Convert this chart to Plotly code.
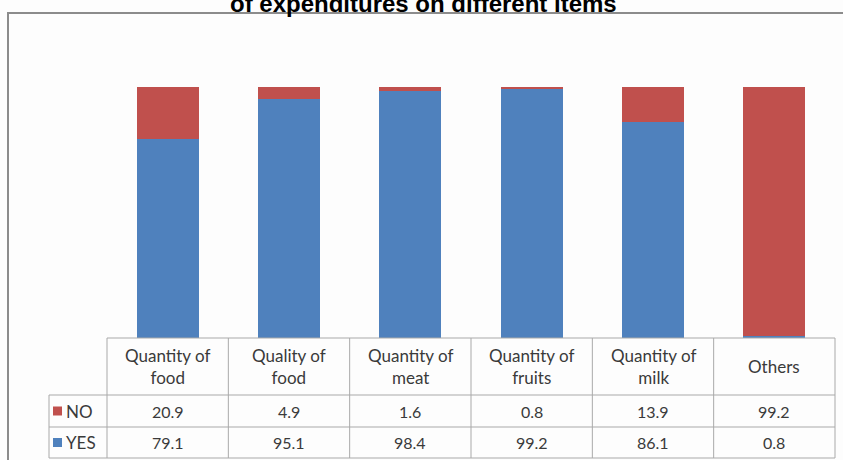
import plotly.graph_objects as go

# Survey data: share of respondents (%) per expenditure item
categories = ["Quantity of<br>food", "Quality of<br>food", "Quantity of<br>meat",
              "Quantity of<br>fruits", "Quantity of<br>milk", "Others"]
yes_values = [79.1, 95.1, 98.4, 99.2, 86.1, 0.8]
no_values = [20.9, 4.9, 1.6, 0.8, 13.9, 99.2]

BLUE = "#4F81BD"
RED = "#C0504D"
W, H = 843, 460


def px(x):
    return x / W


def py(y):
    return 1 - y / H


# Layout geometry of the plot/table area (pixels)
left, right = 107, 835
top, base = 87, 338
row_bounds = [338, 395, 427, 458]
legend_left = 49
col_w = (right - left) / len(categories)

fig = go.Figure()
fig.add_trace(go.Bar(x=list(range(len(categories))), y=yes_values, name="YES",
                     marker=dict(color=BLUE, line=dict(width=0))))
fig.add_trace(go.Bar(x=list(range(len(categories))), y=no_values, name="NO",
                     marker=dict(color=RED, line=dict(width=0))))

shapes = []
annotations = []

# outer chart border
shapes.append(dict(type="rect", xref="paper", yref="paper",
                   x0=px(8), x1=px(W + 20), y0=py(H + 20), y1=py(13),
                   line=dict(color="#8c8c8c", width=2), fillcolor="rgba(0,0,0,0)",
                   layer="below"))

grid = dict(color="#a9a9a9", width=1)
# horizontal table lines
shapes.append(dict(type="line", xref="paper", yref="paper", x0=px(left), x1=px(right),
                   y0=py(row_bounds[0]), y1=py(row_bounds[0]), line=grid))
for yb in row_bounds[1:]:
    shapes.append(dict(type="line", xref="paper", yref="paper", x0=px(legend_left), x1=px(right),
                       y0=py(yb), y1=py(yb), line=grid))
# vertical table lines
shapes.append(dict(type="line", xref="paper", yref="paper", x0=px(legend_left), x1=px(legend_left),
                   y0=py(row_bounds[1]), y1=py(row_bounds[3]), line=grid))
for i in range(len(categories) + 1):
    xc = left + i * col_w
    shapes.append(dict(type="line", xref="paper", yref="paper", x0=px(xc), x1=px(xc),
                       y0=py(row_bounds[0]), y1=py(row_bounds[3]), line=grid))

tfont = dict(family="Lato, Open Sans, sans-serif", size=17, color="#3a3a3a")
nfont = dict(family="Lato, Open Sans, sans-serif", size=16, color="#3a3a3a")

# header cells
for i, cat in enumerate(categories):
    xc = left + (i + 0.5) * col_w
    annotations.append(dict(xref="paper", yref="paper", x=px(xc),
                            y=py((row_bounds[0] + row_bounds[1]) / 2),
                            xanchor="center", yanchor="middle",
                            text=cat, showarrow=False, font=tfont, align="center"))

# value rows
rows = [("NO", RED, no_values), ("YES", BLUE, yes_values)]
for r, (label, color, vals) in enumerate(rows):
    yc = (row_bounds[r + 1] + row_bounds[r + 2]) / 2
    shapes.append(dict(type="rect", xref="paper", yref="paper",
                       x0=px(53), x1=px(62), y0=py(yc + 4.5), y1=py(yc - 4.5),
                       fillcolor=color, line=dict(width=0)))
    annotations.append(dict(xref="paper", yref="paper", x=px(64), y=py(yc),
                            xanchor="left", yanchor="middle",
                            text=label, showarrow=False, font=tfont))
    for i, v in enumerate(vals):
        xc = left + (i + 0.5) * col_w
        annotations.append(dict(xref="paper", yref="paper", x=px(xc), y=py(yc),
                                xanchor="center", yanchor="middle",
                                text=f"{v:.1f}", showarrow=False, font=nfont))

# title (its upper part runs past the top of the page)
annotations.append(dict(xref="paper", yref="paper", x=px(423), y=py(19),
                        xanchor="center", yanchor="bottom",
                        text="<b>of expenditures on different items</b>",
                        showarrow=False,
                        font=dict(family="Liberation Sans, Arial", size=24, color="#000000")))

fig.update_layout(
    width=W, height=H,
    margin=dict(l=0, r=0, t=0, b=0),
    paper_bgcolor="#fdfdfd", plot_bgcolor="rgba(0,0,0,0)",
    barmode="stack", bargap=0.49, showlegend=False,
    xaxis=dict(domain=[px(left), px(right)], range=[-0.5, len(categories) - 0.5],
               visible=False, fixedrange=True),
    yaxis=dict(domain=[py(base), py(top)], range=[0, 100], visible=False, fixedrange=True),
    shapes=shapes, annotations=annotations,
)

fig.write_html("out.html")
